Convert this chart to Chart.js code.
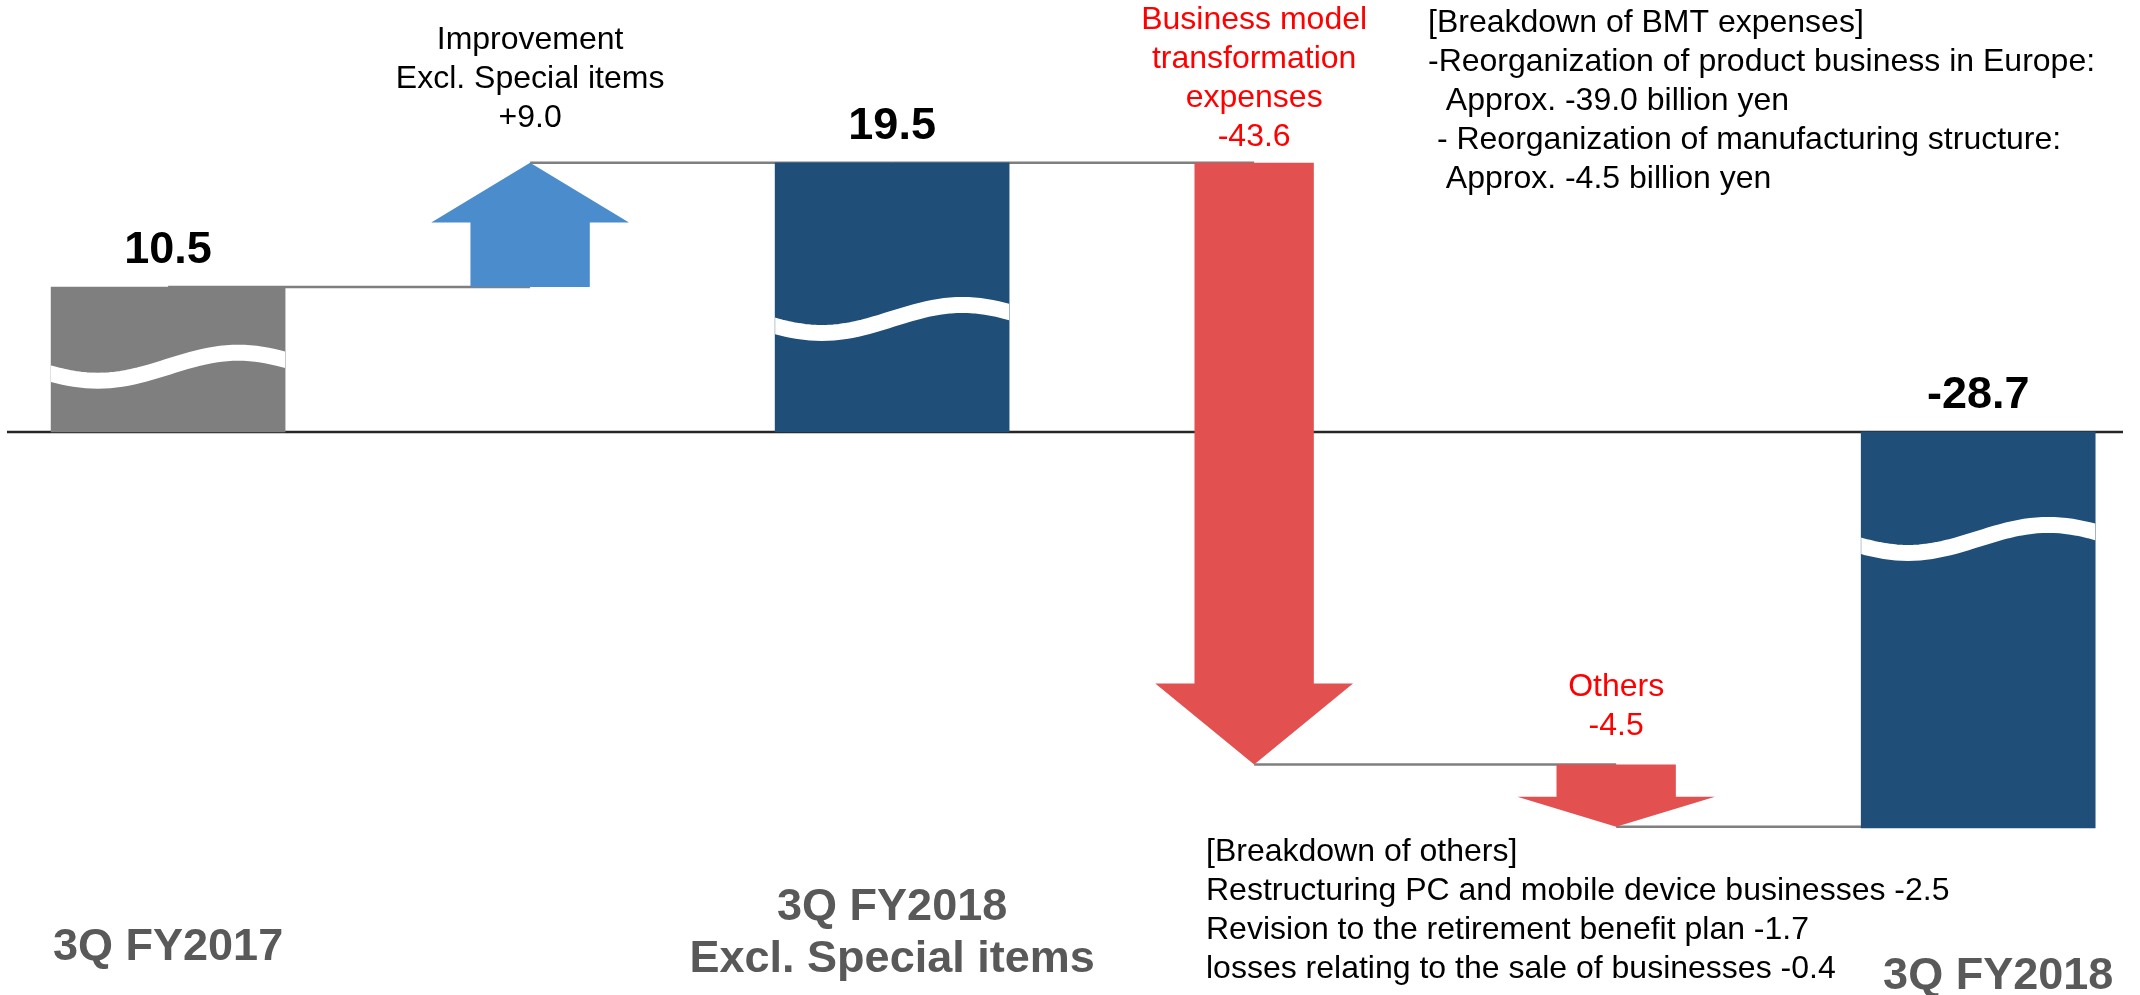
<!DOCTYPE html>
<html>
<head>
<meta charset="utf-8">
<title>Operating income bridge</title>
<script src="https://cdn.jsdelivr.net/npm/chart.js@4/dist/chart.umd.min.js"></script>
<style>
html, body { margin: 0; padding: 0; background: #fff; }
#wrap { position: relative; width: 2140px; height: 995px; }
</style>
</head>
<body>
<div id="wrap"><canvas id="bridge"></canvas></div>
<script>
/****** data (billion yen) ******/
var categories = [
  ['3Q FY2017'],
  ['Improvement', 'Excl. Special items'],
  ['3Q FY2018', 'Excl. Special items'],
  ['Business model', 'transformation', 'expenses'],
  ['Others'],
  ['3Q FY2018']
];
// totals are levels, deltas are changes from the previous level
var values = [10.5, 9.0, 19.5, -43.6, -4.5, -28.7];
var kinds  = ['total', 'delta', 'total', 'delta', 'delta', 'total'];

var bmtBreakdown = [
  '[Breakdown of BMT expenses]',
  '-Reorganization of product business in Europe:',
  '  Approx. -39.0 billion yen',
  ' - Reorganization of manufacturing structure:',
  '  Approx. -4.5 billion yen'
];
var otherBreakdown = [
  '[Breakdown of others]',
  'Restructuring PC and mobile device businesses -2.5',
  'Revision to the retirement benefit plan -1.7',
  'losses relating to the sale of businesses -0.4'
];

/****** floating ranges built from the values ******/
var ranges = [], ends = [], level = 0;
for (var i = 0; i < values.length; i++) {
  if (kinds[i] == 'total') {
    ranges.push({ x: i, y: [0, values[i]] });
    level = values[i];
  } else {
    ranges.push({ x: i, y: [level, level + values[i]] });
    level = level + values[i];
  }
  ends.push(level);
}

var FONT = '"Liberation Sans", Arial, sans-serif';
var GRAY = '#7F7F7F', NAVY = '#1F4E79', UP = '#4A8CCC', DOWN = '#E35050';

function fmt(v, signed) {
  var s = v.toFixed(1);
  if (signed && v > 0) s = '+' + s;
  return s;
}

// where the white "break" wave sits, as a fraction of the bar from its top
var waveAt = { 0: 0.55, 2: 0.58, 5: 0.27 };

function drawWave(ctx, bar, frac) {
  var left = bar.x - bar.width / 2;
  var top = Math.min(bar.y, bar.base), bottom = Math.max(bar.y, bar.base);
  var c = top + (bottom - top) * frac, amp = 14;
  ctx.save();
  ctx.beginPath();
  ctx.rect(left, top, bar.width, bottom - top);
  ctx.clip();
  ctx.strokeStyle = '#fff';
  ctx.lineWidth = 16;
  ctx.beginPath();
  for (var k = -3; k <= 43; k++) {
    var t = k / 40;
    var yy = c + amp * Math.cos(Math.PI * (t - 0.2) / 0.6);
    if (k == -3) ctx.moveTo(left + t * bar.width, yy);
    else ctx.lineTo(left + t * bar.width, yy);
  }
  ctx.stroke();
  ctx.restore();
}

function drawArrow(ctx, bar, up, color) {
  var top = Math.min(bar.y, bar.base), bottom = Math.max(bar.y, bar.base);
  var len = bottom - top, head = Math.min(81, len * 0.48);
  var sw = bar.width * 0.51 / 2, hw = bar.width * 0.845 / 2, x = bar.x;
  ctx.save();
  ctx.fillStyle = color;
  ctx.beginPath();
  if (up) {
    ctx.moveTo(x, top);
    ctx.lineTo(x + hw, top + head);
    ctx.lineTo(x + sw, top + head);
    ctx.lineTo(x + sw, bottom);
    ctx.lineTo(x - sw, bottom);
    ctx.lineTo(x - sw, top + head);
    ctx.lineTo(x - hw, top + head);
  } else {
    ctx.moveTo(x, bottom);
    ctx.lineTo(x + hw, bottom - head);
    ctx.lineTo(x + sw, bottom - head);
    ctx.lineTo(x + sw, top);
    ctx.lineTo(x - sw, top);
    ctx.lineTo(x - sw, bottom - head);
    ctx.lineTo(x - hw, bottom - head);
  }
  ctx.closePath();
  ctx.fill();
  ctx.restore();
}

function drawLines(ctx, lines, x, y, lh, align) {
  ctx.textAlign = align;
  for (var k = 0; k < lines.length; k++) ctx.fillText(lines[k], x, y + k * lh);
}

// text placement (label offsets, in px)
var noteGap = { 1: 45, 3: 26, 4: 38 };          // last note line above arrow top
var catY    = { 0: 948, 2: 908, 5: 977 };       // first line of bottom labels
var catDx   = { 5: 20 };

var bridgePlugin = {
  id: 'bridge',
  beforeDatasetsDraw: function(chart) {
    var ctx = chart.ctx, ys = chart.scales.y, area = chart.chartArea;
    var bars = chart.getDatasetMeta(0).data;
    ctx.save();
    var y0 = ys.getPixelForValue(0);
    ctx.strokeStyle = '#262626';
    ctx.lineWidth = 2.5;
    ctx.beginPath();
    ctx.moveTo(area.left, y0);
    ctx.lineTo(area.right, y0);
    ctx.stroke();
    ctx.strokeStyle = GRAY;
    ctx.lineWidth = 2.5;
    for (var i = 0; i < bars.length - 1; i++) {
      var py = ys.getPixelForValue(ends[i]);
      ctx.beginPath();
      ctx.moveTo(bars[i].x, py);
      ctx.lineTo(bars[i + 1].x, py);
      ctx.stroke();
    }
    ctx.restore();
  },
  afterDatasetsDraw: function(chart) {
    var ctx = chart.ctx;
    var bars = chart.getDatasetMeta(0).data;
    for (var i = 0; i < bars.length; i++) {
      if (kinds[i] == 'delta') drawArrow(ctx, bars[i], values[i] > 0, values[i] > 0 ? UP : DOWN);
      else if (waveAt[i] != null) drawWave(ctx, bars[i], waveAt[i]);
    }
  },
  afterDraw: function(chart) {
    var ctx = chart.ctx;
    var bars = chart.getDatasetMeta(0).data;
    ctx.save();
    ctx.textBaseline = 'middle';
    for (var i = 0; i < bars.length; i++) {
      var b = bars[i], top = Math.min(b.y, b.base);
      if (kinds[i] == 'total') {
        ctx.font = 'bold 45px ' + FONT;
        ctx.fillStyle = '#000';
        drawLines(ctx, [fmt(values[i])], b.x, top - 36, 0, 'center');
        ctx.fillStyle = '#595959';
        drawLines(ctx, categories[i], b.x + (catDx[i] || 0), catY[i], 52, 'center');
      } else {
        var lines = categories[i].concat([fmt(values[i], true)]);
        ctx.font = '32px ' + FONT;
        ctx.fillStyle = values[i] > 0 ? '#000' : '#FF0000';
        drawLines(ctx, lines, b.x, top - noteGap[i] - (lines.length - 1) * 39, 39, 'center');
      }
    }
    ctx.font = '32px ' + FONT;
    ctx.fillStyle = '#000';
    drawLines(ctx, bmtBreakdown, 1428, 23, 39, 'left');
    drawLines(ctx, otherBreakdown, 1206, 852, 39, 'left');
    ctx.restore();
  }
};

var ctx = document.getElementById('bridge').getContext('2d');
var chart = new Chart(ctx, {
  type: 'bar',
  data: {
    datasets: [{
      data: ranges,
      backgroundColor: function(c) {
        var i = c.dataIndex;
        if (kinds[i] == 'delta') return 'rgba(0,0,0,0)';
        return i == 0 ? GRAY : NAVY;
      },
      borderWidth: 0,
      barThickness: 234
    }]
  },
  options: {
    responsive: true,
    maintainAspectRatio: false,
    animation: false,
    layout: { padding: { left: 7, right: 17, top: 0, bottom: 0 } },
    plugins: { legend: { display: false }, tooltip: { enabled: false } },
    scales: {
      x: { type: 'linear', offset: false, min: -0.445, max: 5.4, display: false },
      y: { min: -40.8, max: 31.3, display: false }
    }
  },
  plugins: [bridgePlugin]
});
</script>
</body>
</html>
